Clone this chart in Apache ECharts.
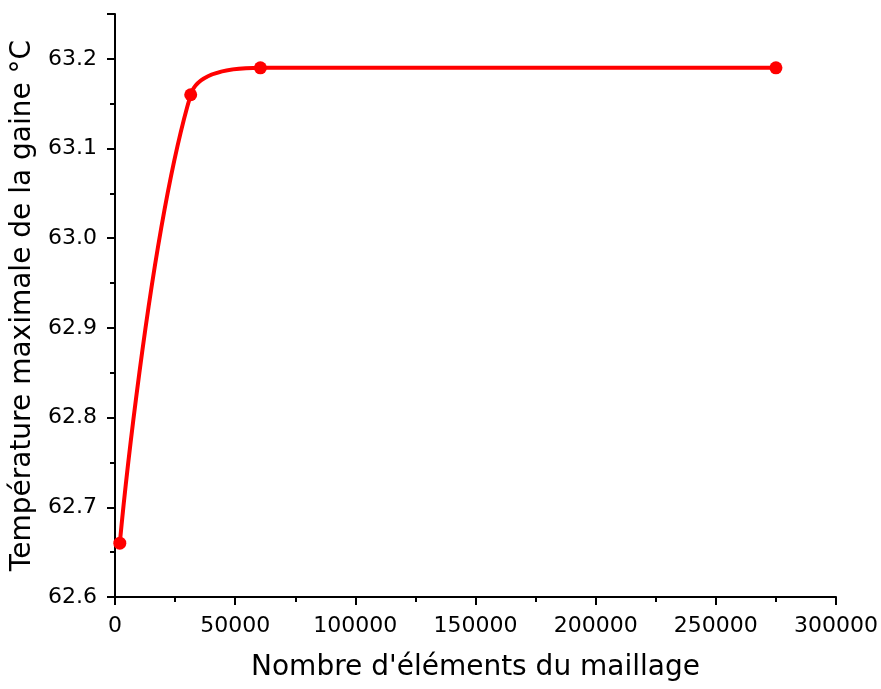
<!DOCTYPE html>
<html>
<head>
<meta charset="utf-8">
<script src="https://cdn.jsdelivr.net/npm/echarts@6/dist/echarts.min.js"></script>
<style>html,body{margin:0;padding:0;background:#fff;}#c{width:881px;height:689px;}</style>
</head>
<body>
<div id="c"></div>
<script>
const elements = [2000, 31500, 60500, 275000];
const temperatures = [62.66, 63.16, 63.19, 63.19];
const xTitle = "Nombre d'éléments du maillage";
const yTitle = "Température maximale de la gaine °C";

const chart = echarts.init(document.getElementById('c'));
const font = 'DejaVu Sans, Liberation Sans, Arial, sans-serif';
const axisCommon = {
  axisLine: { show: true, lineStyle: { color: '#000', width: 2 } },
  axisTick: { show: true, inside: false, length: 8, lineStyle: { color: '#000', width: 2 } },
  minorTick: { show: true, splitNumber: 2, length: 5, lineStyle: { color: '#000', width: 2 } },
  splitLine: { show: false },
  nameLocation: 'middle',
  nameTextStyle: { color: '#000', fontSize: 28, fontFamily: font },
};
chart.setOption({
  animation: false,
  backgroundColor: '#fff',
  grid: { left: 115, right: 40, top: 14, bottom: 92, containLabel: false },
  xAxis: Object.assign({}, axisCommon, {
    type: 'value', min: 0, max: 300000, interval: 50000,
    name: xTitle, nameGap: 57,
    axisLabel: { color: '#000', fontSize: 22, fontFamily: font, margin: 18,
      formatter: v => String(v) }
  }),
  yAxis: Object.assign({}, axisCommon, {
    type: 'value', min: 62.6, max: 63.25, interval: 0.1,
    name: yTitle, nameGap: 68,
    axisLabel: { color: '#000', fontSize: 22, fontFamily: font, margin: 18,
      formatter: v => (Math.abs(v - 63.25) < 1e-6 ? '' : v.toFixed(1)) }
  }),
  series: [{
    type: 'line',
    data: elements.map((x, i) => [x, temperatures[i]]),
    smooth: 0.35,
    symbol: 'circle',
    symbolSize: 13,
    lineStyle: { color: '#ff0000', width: 4 },
    itemStyle: { color: '#ff0000' }
  }]
});
</script>
</body>
</html>
